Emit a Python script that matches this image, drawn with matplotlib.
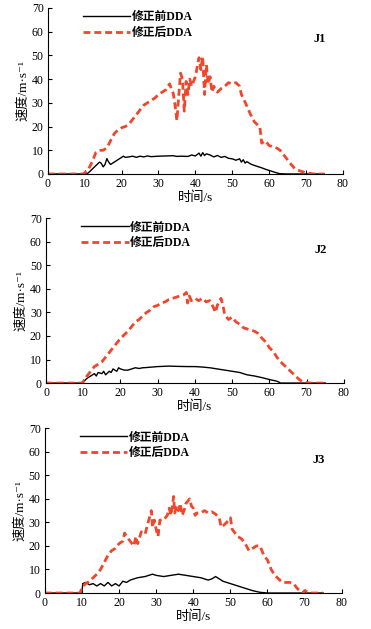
import matplotlib
matplotlib.use('Agg')
import matplotlib.pyplot as plt

plt.rcParams['font.family'] = ['Liberation Serif', 'Noto Sans CJK SC', 'DejaVu Sans']

# J1
j1_before_t = [0, 5, 10, 10.5, 11, 12, 13, 14, 14.5, 15, 15.5, 16, 16.5, 17, 18, 19, 20, 20.5, 21, 22, 23, 24, 25, 26,
               27, 28, 30, 32, 34, 35, 36, 38, 39, 40, 41, 41.5, 42, 42.5, 43, 44, 45, 46, 47, 48, 49, 50, 51, 52,
               52.5, 53, 53.5, 54, 55, 56, 57, 58, 59, 60, 61, 62, 63, 65, 70, 75]
j1_before_v = [0, 0, 0, 0, 0.5, 2, 3.5, 5, 4.5, 3, 4, 6.5, 5, 4, 5, 6, 7, 7.5, 7, 7.2, 7.5, 7, 7.5, 7.2,
               7.6, 7.3, 7.5, 7.6, 7.7, 7.4, 7.5, 7.4, 8, 7.6, 8.8, 7.5, 9, 7.8, 8.5, 8, 7.2, 7.8, 7, 7.4, 6.6, 6.4, 5.8, 6.4,
               5, 6, 4.6, 5.2, 4.2, 3.6, 3.1, 2.6, 2, 1.5, 1, 0.5, 0.1, 0, 0, 0]
j1_after_t = [0, 5, 9.5, 10, 11, 12, 13, 14, 15, 16, 17, 18, 19, 20, 21, 22, 23, 24, 25, 26, 27, 28, 29, 30, 31, 32,
              33, 33.5, 34, 34.5, 35, 35.5, 36, 36.5, 37, 37.5, 38, 38.5, 39, 39.5, 40, 40.5, 41, 41.5, 42, 42.5, 43,
              43.5, 44, 44.5, 45, 46, 47, 48, 49, 50, 51, 52, 52.5, 53, 54, 55, 56, 57, 57.5, 58, 59, 60, 61, 62,
              63, 64, 65, 66, 67, 68, 69, 70, 71, 72, 75]
j1_after_v = [0, 0, 0, 0.5, 2, 5, 9, 10, 10, 11, 14, 17, 18.5, 19.5, 20, 21, 23, 25, 27, 29, 30, 31, 32, 33.5, 34.5, 35.5,
              38, 36, 34, 29, 22.5, 33, 42.5, 40, 26.5, 39, 33.5, 40, 37, 39, 41, 45, 49, 44, 49.5, 33.5, 46,
              38, 41, 34.5, 37, 34.5, 36, 37, 38.5, 38, 38.5, 37, 33.5, 32, 28.5, 25, 22, 20.5, 20, 13, 14, 12, 11.5, 11,
              10, 8, 6, 4, 2.2, 1.5, 1, 0.5, 0.3, 0, 0]

# J2
j2_before_t = [0, 5, 9.5, 10, 11, 12, 13, 13.5, 14, 15, 15.5, 16, 17, 17.5, 18, 19, 19.5, 20, 21, 22, 23, 24, 25, 26,
               27, 30, 33, 35, 38, 40, 42, 44, 46, 48, 50, 52, 54, 56, 58, 60, 62, 63, 65, 70, 75]
j2_before_v = [0, 0, 0, 0.5, 2, 3, 4, 3, 4.5, 4, 5, 3.5, 5, 4.5, 6, 5, 6.5, 6, 5.5, 5.5, 6, 6.5, 6.2, 6.5,
               6.6, 7, 7.2, 7.1, 7, 7, 6.8, 6.5, 6, 5.5, 5, 4.5, 3.5, 3, 2.3, 1.5, 0.8, 0, 0, 0, 0]
j2_after_t = [0, 5, 9.5, 10, 11, 12, 13, 14, 15, 16, 17, 18, 19, 20, 21, 22, 23, 24, 25, 26, 27, 28, 29, 30, 31, 32,
              33, 34, 35, 36, 37, 37.7, 38, 38.5, 39, 40, 41, 42, 43, 44, 45, 45.5, 46, 47, 47.5, 48, 49, 50, 51, 52,
              53, 54, 55, 56, 57, 58, 59, 60, 61, 62, 63, 64, 65, 66, 67, 68, 69, 70, 71, 75]
j2_after_v = [0, 0, 0, 0.5, 3, 5, 7, 8, 9, 11, 13, 15, 17, 19, 20.5, 22, 24, 26, 27, 28.5, 30, 31, 32.5, 33, 34, 34.5,
              35.5, 36, 36.5, 37, 37.5, 38.5, 34, 37, 35, 36, 35, 36, 34.5, 35, 32, 30, 33, 36, 33, 29, 27, 28, 26, 25,
              23.5, 23, 22.5, 22, 21, 19, 17.5, 15, 13.5, 11, 9, 7.5, 6, 4.5, 3, 1.5, 0.5, 0.2, 0, 0]

# J3
j3_before_t = [0, 5, 10, 10.2, 11, 12, 13, 14, 15, 16, 17, 18, 19, 20, 21, 22, 23, 24, 25, 27, 28, 29, 30, 32, 34, 36,
               38, 40, 42, 44, 45, 46, 47, 48, 50, 52, 54, 56, 58, 60, 65, 70, 75]
j3_before_v = [0, 0, 0, 4, 4.5, 3.5, 4, 3, 4, 3, 4.5, 3, 4, 3, 5, 4.5, 5.5, 6, 6.5, 7, 7.5, 8, 7.5, 7, 7.5, 8,
               7.5, 7, 6.5, 5.5, 6, 7, 6, 5, 4, 3, 2, 1, 0.3, 0, 0, 0, 0]
j3_after_t = [0, 5, 9.5, 10, 11, 12, 13, 14, 15, 16, 17, 18, 19, 20, 21, 21.5, 22, 23, 24, 24.5, 25, 26, 27, 27.5, 28,
              28.7, 29, 29.5, 30, 30.5, 31, 32, 33, 33.5, 34, 34.7, 35, 35.5, 36, 36.5, 37, 37.5, 38, 39, 39.5, 40,
              40.5, 41, 42, 43, 44, 45, 46, 47, 47.5, 48, 49, 50, 50.5, 51, 52, 53, 54, 55, 56, 57, 58, 59, 60, 61,
              62, 63, 64, 65, 66, 67, 68, 69, 69.5, 70, 71, 72, 75]
j3_after_v = [0, 0, 0, 2.5, 4, 5, 6.5, 8, 10, 13, 16, 18, 19, 21, 22, 25.5, 24, 22, 20, 24, 21, 26, 25, 28, 31,
              35, 28, 31, 27, 24, 31, 31, 33, 36, 33, 41, 34, 37, 35, 38, 33, 35, 38, 40, 37, 36,
              33, 34, 34, 35, 34, 34.5, 33.5, 32, 28, 28.5, 30, 32, 27, 26, 24, 23, 21, 18, 19, 20, 20, 16, 14, 10,
              7.5, 6, 4.5, 4.5, 4.5, 4, 2, 0.5, 0, 1, 0.3, 0, 0]

panels = [
    ('J1', j1_before_t, j1_before_v, j1_after_t, j1_after_v),
    ('J2', j2_before_t, j2_before_v, j2_after_t, j2_after_v),
    ('J3', j3_before_t, j3_before_v, j3_after_t, j3_after_v),
]
boxes = [
    [0.129, 0.7234, 0.795, 0.264],
    [0.124, 0.391, 0.803, 0.262],
    [0.121, 0.0572, 0.800, 0.262],
]

red = '#f0462b'
fig = plt.figure(figsize=(3.71, 6.29), dpi=100)
for (name, bt, bv, at, av), box in zip(panels, boxes):
    ax = fig.add_axes(box)
    ax.plot(bt, bv, color='black', lw=1.0, label='修正前DDA')
    ax.plot(at, av, color=red, lw=2.0, linestyle=(0, (2.5, 1.4)), label='修正后DDA')
    ax.set_xlim(0, 80)
    ax.set_ylim(0, 70)
    ax.set_xticks(range(0, 81, 10))
    ax.set_yticks(range(0, 71, 10))
    for s in ['top', 'right']:
        ax.spines[s].set_visible(False)
    for s in ['left', 'bottom']:
        ax.spines[s].set_linewidth(0.8)
    ax.tick_params(direction='in', length=3, width=0.8, labelsize=8.5, pad=3)
    ax.set_xlabel('时间/s', fontsize=9.5, labelpad=1)
    ax.set_ylabel('速度/m·s⁻¹', fontsize=9.5, labelpad=2)
    ax.text(0.90, 0.81, name, transform=ax.transAxes, fontsize=9, fontweight='bold',
            ha='left', va='center')
    ax.legend(loc='upper left', bbox_to_anchor=(0.119, 0.98), frameon=False,
              borderpad=0, borderaxespad=0, handlelength=4.0, handletextpad=0.1,
              labelspacing=0.3, prop={'size': 8.5, 'weight': 'bold'})

fig.savefig('out.png', dpi=100)
